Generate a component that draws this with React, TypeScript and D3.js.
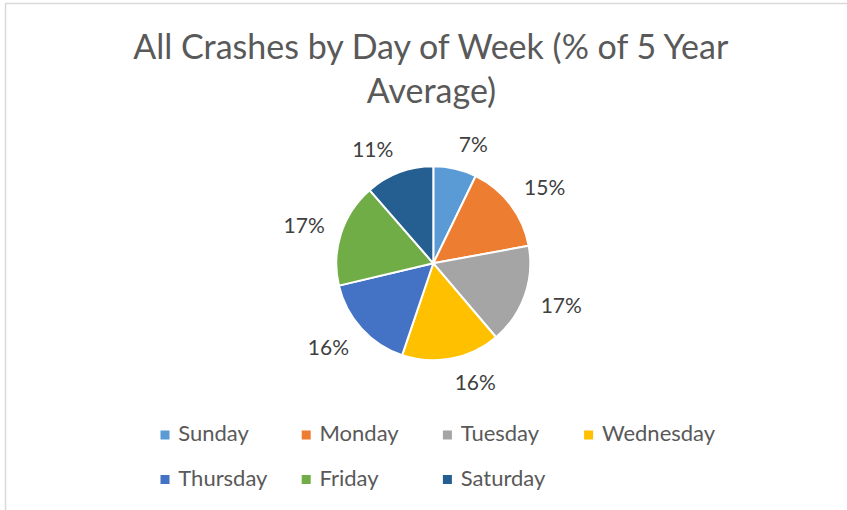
import React from "react";
import * as d3 from "d3";

const days = ["Sunday", "Monday", "Tuesday", "Wednesday", "Thursday", "Friday", "Saturday"];
const shares = [7.2, 14.9, 16.7, 16.4, 16.1, 17.3, 11.4];
const colors = ["#5B9BD5", "#ED7D31", "#A5A5A5", "#FFC000", "#4472C4", "#70AD47", "#255E91"];
const titleLines = ["All Crashes by Day of Week (% of 5 Year", "Average)"];

const W = 847;
const H = 510;
const cx = 433.3;
const cy = 263.3;
const R = 97;
const labelGap = 17;
const labelFont = 21;
const labelBoxH = 15;
const legendLeft = 160.5;
const legendCol = 141.2;
const legendRow0 = 441;
const legendRowH = 44.5;
const legendCols = 4;

export default function App() {
  const total = d3.sum(shares);
  const pie = d3.pie<number>().sort(null).value((d) => d);
  const arcs = pie(shares);
  const arcGen = d3.arc<d3.PieArcDatum<number>>().innerRadius(0).outerRadius(R);

  return (
    <svg
      width={W}
      height={H}
      style={{ position: "absolute", left: 0, top: 0, background: "#fff" }}
    >
      <rect x={5.5} y={3.5} width={W + 20} height={H + 20} fill="#fff" stroke="#d9d9d9" strokeWidth={1.5} />
      <g fontFamily="Lato, 'Open Sans', sans-serif" fill="#595959" textAnchor="middle">
        <text x={430.8} y={59} fontSize={34}>{titleLines[0]}</text>
        <text x={431.5} y={103} fontSize={34}>{titleLines[1]}</text>
      </g>
      <g transform={`translate(${cx},${cy})`}>
        {arcs.map((a, i) => (
          <path key={days[i]} d={arcGen(a) || ""} fill={colors[i]} stroke="#fff" strokeWidth={2} strokeLinejoin="round" />
        ))}
        {arcs.map((a, i) => {
          const mid = (a.startAngle + a.endAngle) / 2;
          const s = Math.sin(mid);
          const c = Math.cos(mid);
          const px = s * (R + labelGap);
          const py = -c * (R + labelGap);
          const off = Math.max(-labelBoxH / 2, Math.min(labelBoxH / 2, c * labelBoxH * 0.75));
          const yc = py - off;
          return (
            <text
              key={"l" + days[i]}
              x={px}
              y={yc + labelFont * 0.36}
              textAnchor={s >= 0 ? "start" : "end"}
              fontFamily="Lato, 'Open Sans', sans-serif"
              fontSize={labelFont}
              fill="#404040"
            >
              {Math.round((a.data / total) * 100)}%
            </text>
          );
        })}
      </g>
      <g fontFamily="Lato, 'Open Sans', sans-serif" fontSize={22} fill="#595959">
        {days.map((d, i) => {
          const col = i % legendCols;
          const row = Math.floor(i / legendCols);
          const x = legendLeft + col * legendCol;
          const yb = legendRow0 + row * legendRowH;
          return (
            <g key={"lg" + d}>
              <rect x={x} y={yb - 10.5} width={9} height={9} fill={colors[i]} />
              <text x={x + 17.8} y={yb}>{d}</text>
            </g>
          );
        })}
      </g>
    </svg>
  );
}
